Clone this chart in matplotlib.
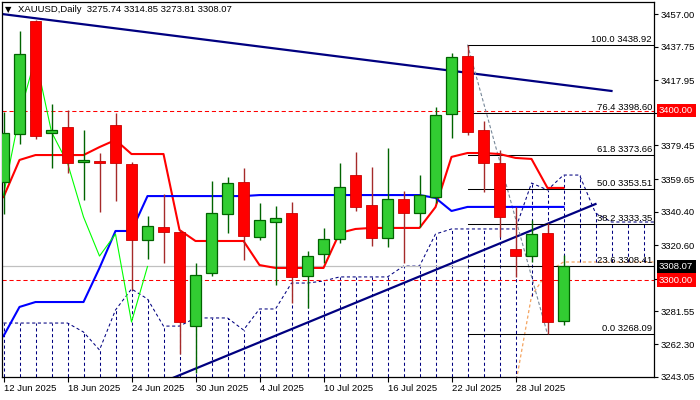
import numpy as np
import matplotlib
matplotlib.use("Agg")
import matplotlib.pyplot as plt
import matplotlib.transforms as mtransforms

plt.rcParams["font.family"] = ["Liberation Sans", "DejaVu Sans"]
plt.rcParams["font.size"] = 6.8

# daily bars, 12 Jun 2025 - 31 Jul 2025
dates = ["12 Jun 2025", "13 Jun 2025", "16 Jun 2025", "17 Jun 2025", "18 Jun 2025",
         "19 Jun 2025", "20 Jun 2025", "23 Jun 2025", "24 Jun 2025", "25 Jun 2025",
         "26 Jun 2025", "27 Jun 2025", "30 Jun 2025", "1 Jul 2025", "2 Jul 2025",
         "3 Jul 2025", "4 Jul 2025", "7 Jul 2025", "8 Jul 2025", "9 Jul 2025",
         "10 Jul 2025", "11 Jul 2025", "14 Jul 2025", "15 Jul 2025", "16 Jul 2025",
         "17 Jul 2025", "18 Jul 2025", "21 Jul 2025", "22 Jul 2025", "23 Jul 2025",
         "24 Jul 2025", "25 Jul 2025", "28 Jul 2025", "29 Jul 2025", "30 Jul 2025",
         "31 Jul 2025"]

opens = [3357.9, 3386.2, 3452.9, 3386.8, 3390.3, 3369.7, 3370.3, 3391.5, 3368.5, 3323.7,
         3331.4, 3328.4, 3272.9, 3304.2, 3339.0, 3357.9, 3325.5, 3334.3, 3339.6, 3302.4,
         3315.4, 3324.3, 3362.0, 3344.3, 3324.9, 3347.9, 3339.6, 3349.0, 3398.0, 3432.2,
         3388.6, 3369.1, 3318.4, 3314.2, 3327.8, 3275.74]
highs = [3399.2, 3447.0, 3453.5, 3403.9, 3400.4, 3388.6, 3375.0, 3398.6, 3369.7, 3337.8,
         3350.8, 3329.6, 3310.1, 3358.5, 3360.8, 3366.2, 3345.5, 3343.7, 3346.1, 3317.2,
         3330.8, 3369.1, 3375.6, 3366.8, 3377.9, 3352.6, 3362.0, 3402.1, 3434.0, 3438.92,
         3393.9, 3376.8, 3343.2, 3335.5, 3333.7, 3314.85]
lows = [3339.0, 3380.3, 3383.3, 3366.2, 3363.2, 3347.2, 3340.2, 3346.7, 3294.2, 3312.5,
        3310.1, 3256.4, 3245.2, 3302.4, 3327.8, 3311.9, 3323.7, 3297.1, 3286.5, 3283.6,
        3310.1, 3321.9, 3340.8, 3320.1, 3319.5, 3310.1, 3331.4, 3345.5, 3383.8, 3385.6,
        3352.0, 3325.5, 3301.9, 3310.7, 3268.09, 3273.81]
closes = [3386.8, 3433.4, 3385.0, 3388.6, 3369.1, 3370.9, 3369.1, 3369.1, 3323.7, 3332.0,
          3328.4, 3275.3, 3303.0, 3339.6, 3357.3, 3326.0, 3335.5, 3336.7, 3301.9, 3314.2,
          3324.3, 3354.9, 3343.2, 3324.9, 3347.9, 3339.6, 3350.2, 3397.4, 3431.6, 3387.4,
          3369.1, 3337.3, 3314.2, 3327.2, 3275.3, 3308.07]

# ichimoku lines
tenkan = [3349.0, 3370.9, 3373.8, 3373.8, 3373.8, 3373.8, 3378.5, 3382.7, 3374.4, 3374.4,
          3374.4, 3329.6, 3323.1, 3323.1, 3323.1, 3323.1, 3308.9, 3307.2, 3307.2, 3307.2,
          3307.2, 3327.8, 3330.2, 3330.8, 3330.8, 3330.8, 3330.8, 3343.1, 3372.7, 3375.0,
          3375.0, 3374.4, 3372.1, 3371.5, 3354.4, 3354.4]
kijun = [3267.0, 3284.2, 3287.1, 3287.1, 3287.1, 3287.1, 3307.2, 3329.0, 3329.0, 3349.6,
         3349.6, 3349.6, 3349.6, 3349.6, 3349.6, 3349.6, 3350.2, 3350.2, 3350.2, 3350.2,
         3350.2, 3350.2, 3350.2, 3350.2, 3350.2, 3350.2, 3350.2, 3348.5, 3340.8, 3343.2,
         3343.2, 3343.2, 3343.2, 3343.2, 3343.2, 3343.2]
span_a = [3274.7, 3274.7, 3274.7, 3274.7, 3274.7, 3269.4, 3258.8, 3282.4, 3294.8, 3288.9,
          3272.9, 3272.9, 3277.7, 3277.7, 3277.7, 3270.6, 3283.0, 3283.0, 3298.3, 3298.3,
          3299.5, 3301.9, 3301.9, 3301.9, 3301.9, 3308.3, 3308.3, 3327.2, 3330.2, 3330.2,
          3330.2, 3330.2, 3330.2, 3357.3, 3353.2, 3362.0, 3362.0, 3339.6, 3334.3, 3334.3,
          3334.3, 3334.3]
span_b = [np.nan] * 32 + [3238.1, 3290.6, 3304.8, 3310.7, 3310.7, 3310.7, 3310.7, 3310.7,
                          3310.7, 3310.7]

# drawn objects
down_trend_x = [-0.1, 38.0]
down_trend_y = [3457.0, 3411.6]
up_trend_x = [10.5, 37.0]
up_trend_y = [3242.0, 3344.9]
fib_pct = ["100.0", "76.4", "61.8", "50.0", "38.2", "23.6", "0.0"]
fib_price = [3438.92, 3398.60, 3373.66, 3353.51, 3333.35, 3308.41, 3268.09]
fib_start = 29
fib_end = 34
alert_levels = [3400.00, 3300.00]
last_price = 3308.07
yticks = [3457.00, 3437.75, 3417.95, 3398.70, 3379.45, 3359.65, 3340.40, 3320.60,
          3300.80, 3281.55, 3262.30, 3243.05]
hidden_ticks = [3398.70, 3300.80]  # covered by the price boxes

fig = plt.figure(figsize=(7, 4), dpi=100)
ax = fig.add_axes([2 / 700, 23 / 400, 652 / 700, 375 / 400])
ymin, ymax = 3242.87, 3464.08
ax.set_xlim(-0.094, 40.656)
ax.set_ylim(ymin, ymax)

navy = "#000080"
idx = np.arange(len(closes))
cidx = np.arange(len(span_a))

# cloud
sa = np.array(span_a)
sb = np.array(span_b)
ax.plot(cidx, sa, color=navy, lw=0.75, ls=(0, (3, 2.5)), zorder=1)
ax.plot(cidx, sb, color="#f4a460", lw=0.9, ls=(0, (2.5, 2)), zorder=1)
for i in cidx[:41]:
    lo = sb[i] if not np.isnan(sb[i]) else ymin - 10
    ax.vlines(i, min(lo, sa[i]), max(lo, sa[i]), color=navy, lw=0.75,
              linestyles=(0, (3, 2.5)), zorder=1)

# horizontal levels
for lvl in alert_levels:
    ax.axhline(lvl, color="red", lw=0.75, ls=(0, (4, 2.7)), zorder=1.5)
ax.axhline(last_price, color="#c0c0c0", lw=0.9, zorder=1.5)

# trendlines
ax.plot(down_trend_x, down_trend_y, color=navy, lw=1.6, zorder=2)
ax.plot(up_trend_x, up_trend_y, color=navy, lw=1.6, zorder=2)

# fibonacci
ax.plot([fib_start, fib_end], [fib_price[0], fib_price[-1]], color="#778899",
        lw=0.8, ls=(0, (3, 2)), zorder=2)
for p, lv in zip(fib_pct, fib_price):
    ax.plot([fib_start, 41], [lv, lv], color="black", lw=0.75, zorder=2)
    ax.annotate(f"{p} {lv:.2f}", xy=(1.0, lv), xycoords=("axes fraction", "data"),
                xytext=(-1.5, 0.8), textcoords="offset points", ha="right", va="bottom",
                fontsize=6.8, zorder=2)

# ichimoku lines
ax.plot(idx, tenkan, color="red", lw=1.5, zorder=2.5)
ax.plot(idx, kijun, color="blue", lw=1.5, zorder=2.5)
ax.plot(idx[:10], closes[26:], color="#00ff00", lw=0.8, zorder=2.5)

# candles
o = np.array(opens)
c = np.array(closes)
up = c >= o
body_lo = np.minimum(o, c)
body_h = np.maximum(np.abs(c - o), 0.6)
ax.vlines(idx[up], np.array(lows)[up], np.array(highs)[up], color="#006400", lw=1, zorder=4)
ax.vlines(idx[~up], np.array(lows)[~up], np.array(highs)[~up], color="#a52a2a", lw=1, zorder=4)
ax.bar(idx[up], body_h[up], bottom=body_lo[up], width=0.68, color="#32cd32",
       edgecolor="#006400", linewidth=0.9, zorder=5)
ax.bar(idx[~up], body_h[~up], bottom=body_lo[~up], width=0.68, color="red",
       edgecolor="#cc0000", linewidth=0.6, zorder=5)

# axes
for s in ax.spines.values():
    s.set_linewidth(0.9)
ax.yaxis.tick_right()
ax.set_yticks(yticks)
ax.set_yticklabels(["" if v in hidden_ticks else f"{v:.2f}" for v in yticks])
ax.tick_params(axis="y", length=3, width=0.8, pad=2, labelsize=6.8)
ax.set_xticks(idx[::4])
ax.set_xticklabels(dates[::4], ha="left")
ax.tick_params(axis="x", length=3.5, width=0.8, pad=1.5, labelsize=6.8)

tr = mtransforms.blended_transform_factory(ax.transAxes, ax.transData)
for lvl, fc in [(3400.00, "red"), (3300.00, "red"), (last_price, "black")]:
    ax.text(1.0077, lvl, f"{lvl:.2f}", transform=tr, ha="left", va="center",
            color="white", fontsize=6.8, zorder=10, clip_on=False,
            bbox=dict(boxstyle="square,pad=0.25", fc=fc, ec="none"))

fig.text(5 / 700, 1 - 10 / 400, "\u25bc", fontsize=6, family="DejaVu Sans", va="center")
fig.text(18 / 700, 1 - 10 / 400, "XAUUSD,Daily  3275.74 3314.85 3273.81 3308.07",
         fontsize=6.8, va="center")

fig.savefig("out.png", dpi=100)
